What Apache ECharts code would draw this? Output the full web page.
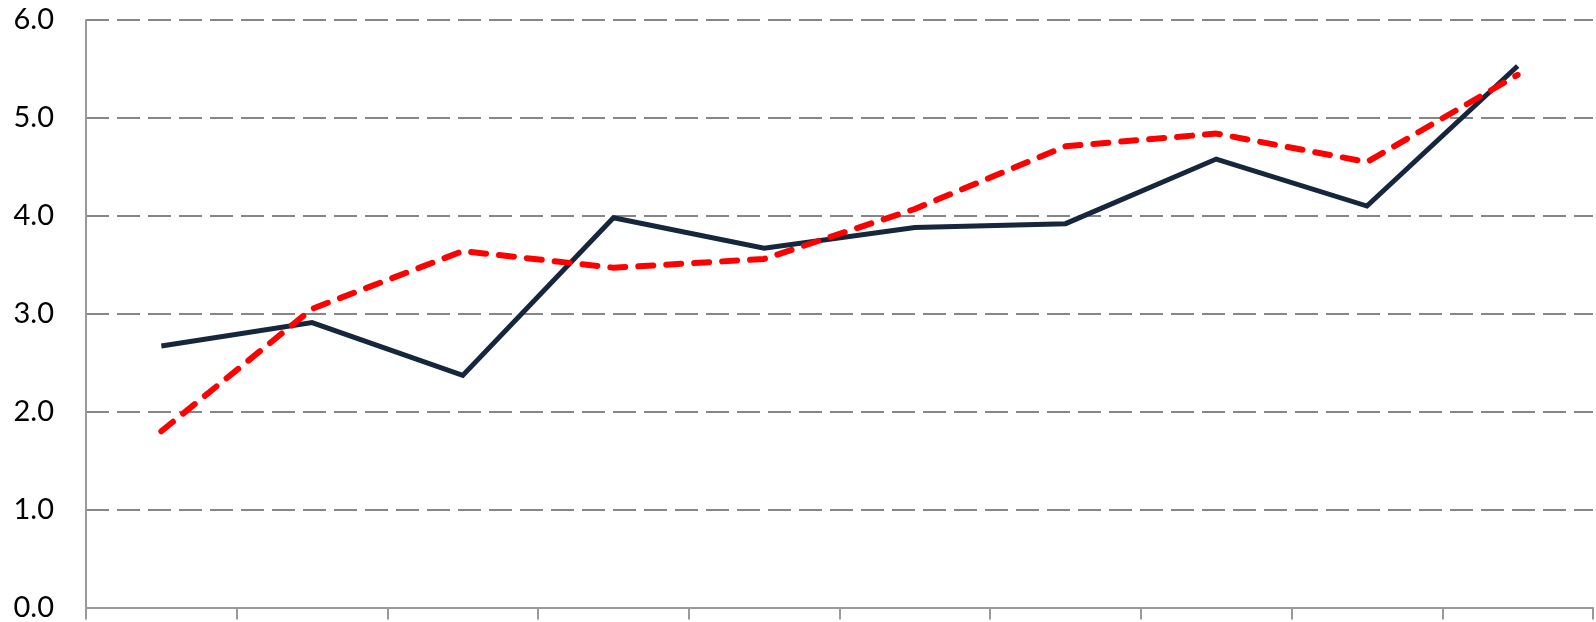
<!DOCTYPE html>
<html>
<head>
<meta charset="utf-8">
<script src="https://cdn.jsdelivr.net/npm/echarts@6/dist/echarts.min.js"></script>
<style>
html,body{margin:0;padding:0;background:#fff;}
#chart{width:1596px;height:622px;}
</style>
</head>
<body>
<div id="chart"></div>
<script>
var categories = ['1','2','3','4','5','6','7','8','9','10'];
var seriesSolid = [2.67, 2.91, 2.37, 3.98, 3.67, 3.88, 3.92, 4.58, 4.10, 5.53];
var seriesDashed = [1.80, 3.05, 3.64, 3.47, 3.56, 4.07, 4.71, 4.84, 4.55, 5.44];
var yTicks = {min: 0, max: 6, interval: 1};

var chart = echarts.init(document.getElementById('chart'));
chart.setOption({
  animation: false,
  backgroundColor: '#ffffff',
  grid: {left: 86, right: 3, top: 20, bottom: 8, containLabel: false},
  xAxis: {
    type: 'category',
    data: categories,
    boundaryGap: true,
    axisLine: {show: true, lineStyle: {color: '#9a9a9a', width: 2}},
    axisTick: {show: true, length: 12, lineStyle: {color: '#9a9a9a', width: 2}},
    axisLabel: {show: false},
    splitLine: {show: false}
  },
  yAxis: {
    type: 'value',
    min: yTicks.min,
    max: yTicks.max,
    interval: yTicks.interval,
    axisLine: {show: true, lineStyle: {color: '#9a9a9a', width: 2}},
    axisTick: {show: false},
    axisLabel: {
      show: true,
      margin: 32,
      fontSize: 29,
      fontFamily: 'Lato',
      color: '#000000',
      formatter: function (v) { return v.toFixed(1); }
    },
    splitLine: {show: true, lineStyle: {color: '#868686', width: 2.2, type: [23, 8]}}
  },
  series: [
    {
      type: 'line',
      data: seriesSolid,
      showSymbol: false,
      symbol: 'none',
      lineStyle: {color: '#15263d', width: 5, join: 'miter'},
      z: 3
    },
    {
      type: 'line',
      data: seriesDashed,
      showSymbol: false,
      symbol: 'none',
      lineStyle: {color: '#ff0000', width: 6, type: [15, 13], cap: 'round', join: 'round'},
      z: 4
    }
  ]
});
</script>
</body>
</html>
